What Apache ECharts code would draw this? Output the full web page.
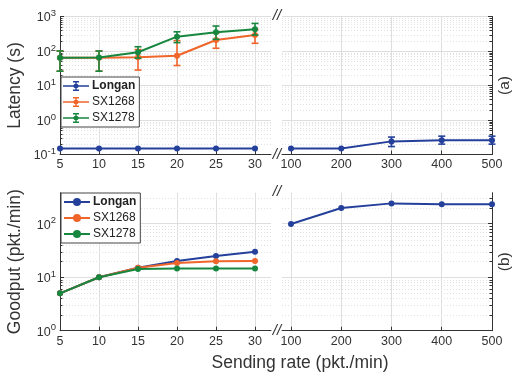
<!DOCTYPE html>
<html>
<head>
<meta charset="utf-8">
<script src="https://cdn.jsdelivr.net/npm/echarts@6/dist/echarts.min.js"></script>
<style>
  html, body { margin: 0; padding: 0; background: #fff; }
  #chart { width: 516px; height: 373px; }
</style>
</head>
<body>
<div id="chart"></div>
<script>
// sending rates (left part / right part of the broken axis)
const rateLow = [5, 10, 15, 20, 25, 30];
const rateHigh = [100, 200, 300, 400, 500];

// latency (s)
const latLonganLow = [0.15, 0.15, 0.15, 0.15, 0.15, 0.15];
const latLonganHigh = [0.15, 0.15, 0.24, 0.26, 0.26];
const latLonganHighErrLo = [null, null, 0.17, 0.2, 0.2];
const latLonganHighErrHi = [null, null, 0.32, 0.34, 0.34];
const latSX1268 = [64, 64, 66, 73, 208, 290];
const latSX1268Lo = [26, 26, 28, 38, 120, 167];
const latSX1268Hi = [100, 100, 110, 200, 330, 420];
const latSX1278 = [64, 65, 92, 260, 350, 425];
const latSX1278Lo = [26, 26, 62, 175, 218, 290];
const latSX1278Hi = [100, 100, 133, 360, 530, 630];

// goodput (pkt./min)
const gpLonganLow = [5, 10, 15, 20, 25, 30];
const gpLonganHigh = [99, 197, 240, 230, 230];
const gpSX1268 = [5, 10, 15, 18.5, 19.8, 20];
const gpSX1278 = [5, 10, 14.3, 14.5, 14.5, 14.5];

// ticks
const latTicks = [0.1, 1, 10, 100, 1000];
const gpTicks = [1, 10, 100];
const latMinor = [0.2, 0.3, 0.4, 0.5, 0.6, 0.7, 0.8, 0.9, 2, 3, 4, 5, 6, 7, 8, 9,
  20, 30, 40, 50, 60, 70, 80, 90, 200, 300, 400, 500, 600, 700, 800, 900];
const gpMinor = [2, 3, 4, 5, 6, 7, 8, 9, 20, 30, 40, 50, 60, 70, 80, 90, 200, 300];

const FONT = 'Liberation Sans';
const C = { Longan: '#24409b', SX1268: '#f0652a', SX1278: '#17873f' };
const AXIS = '#333333';

const errIcon = 'path://M0,4.2L26,4.2L26,5.8L0,5.8Z M12.3,0L13.7,0L13.7,10L12.3,10Z ' +
  'M10,0L16,0L16,1.4L10,1.4Z M10,8.6L16,8.6L16,10L10,10Z M11.5,3L14.5,3L15.5,4L15.5,6L14.5,7L11.5,7L10.5,6L10.5,4Z';

const chart = echarts.init(document.getElementById('chart'));

function supLabel(v) {
  const e = Math.round(Math.log10(v));
  return '{b|10}{s|' + e + '}';
}

function xAxis(gridIndex, min, max, ticks) {
  return {
    type: 'value', gridIndex, min, max,
    axisLine: { show: true, lineStyle: { color: AXIS, width: 1 } },
    axisTick: { show: true, inside: true, length: 4, customValues: ticks, lineStyle: { color: AXIS } },
    axisLabel: { customValues: ticks, color: '#333', fontSize: 12.5, fontFamily: FONT, margin: 4 },
    splitLine: { show: true, lineStyle: { color: '#dedede', width: 1 } }
  };
}

function yAxis(gridIndex, min, max, ticks, side, name) {
  return {
    type: 'log', logBase: 10, gridIndex, min, max, position: side,
    name: name || '', nameLocation: 'middle', nameGap: 36,
    nameTextStyle: { fontSize: 17.5, color: '#333', fontFamily: FONT },
    axisLine: { show: true, lineStyle: { color: AXIS, width: 1 } },
    axisTick: { show: true, inside: true, length: 4, customValues: ticks, lineStyle: { color: AXIS } },
    axisLabel: {
      show: side === 'left', customValues: ticks, formatter: supLabel, margin: 4,
      rich: {
        b: { fontSize: 12.5, color: '#333', fontFamily: FONT, verticalAlign: 'bottom', lineHeight: 16 },
        s: { fontSize: 9.5, color: '#333', fontFamily: FONT, verticalAlign: 'top', lineHeight: 16 }
      }
    },
    splitLine: { show: true, lineStyle: { color: '#dedede', width: 1 } }
  };
}

function minorSeries(axisIndex, xmin, values, side) {
  return {
    type: 'custom', xAxisIndex: axisIndex, yAxisIndex: axisIndex, silent: true, z: 1,
    data: values.map(v => [xmin, v]),
    renderItem: (params, api) => {
      const cs = params.coordSys;
      const y = Math.round(api.coord([api.value(0), api.value(1)])[1]) + 0.5;
      const tx = side === 'left' ? cs.x : cs.x + cs.width - 2.5;
      return {
        type: 'group', children: [
          { type: 'line', shape: { x1: cs.x, y1: y, x2: cs.x + cs.width, y2: y },
            style: { stroke: '#e2e2e2', lineWidth: 1, lineDash: [1, 2] } },
          { type: 'line', shape: { x1: tx, y1: y, x2: tx + 2.5, y2: y },
            style: { stroke: AXIS, lineWidth: 1 } }
        ]
      };
    }
  };
}

function lineSeries(name, axisIndex, xs, ys, z) {
  return {
    name, type: 'line', xAxisIndex: axisIndex, yAxisIndex: axisIndex, z,
    data: xs.map((x, i) => [x, ys[i]]),
    symbol: 'circle', symbolSize: 6,
    lineStyle: { color: C[name], width: 2 },
    itemStyle: { color: C[name] }
  };
}

function errSeries(name, axisIndex, xs, lo, hi, z) {
  return {
    name: 'err-' + name, type: 'custom', xAxisIndex: axisIndex, yAxisIndex: axisIndex, z,
    data: xs.map((x, i) => [x, lo[i], hi[i]]).filter(d => d[1] != null),
    renderItem: (params, api) => {
      const top = api.coord([api.value(0), api.value(2)]);
      const bot = api.coord([api.value(0), api.value(1)]);
      const w = 3.5;
      const st = { stroke: C[name], lineWidth: 1.6 };
      return {
        type: 'group', children: [
          { type: 'line', shape: { x1: top[0], y1: top[1], x2: bot[0], y2: bot[1] }, style: st },
          { type: 'line', shape: { x1: top[0] - w, y1: top[1], x2: top[0] + w, y2: top[1] }, style: st },
          { type: 'line', shape: { x1: bot[0] - w, y1: bot[1], x2: bot[0] + w, y2: bot[1] }, style: st }
        ]
      };
    }
  };
}

function legend(top, icon) {
  const items = ['Longan', 'SX1268', 'SX1278'].map(n => ({
    name: n, textStyle: n === 'Longan' ? { fontWeight: 'bold' } : {}
  }));
  const l = {
    data: items, orient: 'vertical', left: 61, top,
    itemWidth: 26, itemHeight: 10, itemGap: 4, padding: [3, 4, 3, 2],
    borderColor: '#444', borderWidth: 1, backgroundColor: '#fff',
    textStyle: { fontSize: 12, color: '#222', fontFamily: FONT, padding: [0, 0, 0, -2] },
    selectedMode: false, z: 10
  };
  if (icon) l.icon = icon;
  return l;
}

// "//" marks where the x axis is broken
function brk(x, y) {
  return { type: 'text', x, y, style: { text: '//', fontSize: 15, fontStyle: 'italic', fontFamily: FONT, fill: AXIS, align: 'center', verticalAlign: 'middle' }, z: 20 };
}

const topA = 16.5, topB = 192.7, h = 138;

const option = {
  animation: false,
  textStyle: { fontFamily: FONT },
  grid: [
    { left: 60, top: topA, width: 211, height: h },
    { left: 282, top: topA, width: 210, height: h },
    { left: 60, top: topB, width: 211, height: h },
    { left: 282, top: topB, width: 210, height: h }
  ],
  xAxis: [
    xAxis(0, 5, 32.05, rateLow),
    xAxis(1, 82.1, 500, rateHigh),
    xAxis(2, 5, 32.05, rateLow),
    xAxis(3, 82.1, 500, rateHigh)
  ],
  yAxis: [
    yAxis(0, 0.1, 1000, latTicks, 'left', 'Latency (s)'),
    yAxis(1, 0.1, 1000, latTicks, 'right'),
    yAxis(2, 1, 380, gpTicks, 'left', 'Goodput (pkt./min)'),
    yAxis(3, 1, 380, gpTicks, 'right')
  ],
  legend: [legend(77, errIcon), legend(193)],
  series: [
    minorSeries(0, 5, latMinor, 'left'),
    minorSeries(1, 82.1, latMinor, 'right'),
    minorSeries(2, 5, gpMinor, 'left'),
    minorSeries(3, 82.1, gpMinor, 'right'),

    lineSeries('Longan', 0, rateLow, latLonganLow, 5),
    lineSeries('SX1268', 0, rateLow, latSX1268, 6),
    errSeries('SX1268', 0, rateLow, latSX1268Lo, latSX1268Hi, 6),
    lineSeries('SX1278', 0, rateLow, latSX1278, 7),
    errSeries('SX1278', 0, rateLow, latSX1278Lo, latSX1278Hi, 7),
    lineSeries('Longan', 1, rateHigh, latLonganHigh, 5),
    errSeries('Longan', 1, rateHigh, latLonganHighErrLo, latLonganHighErrHi, 5),

    lineSeries('Longan', 2, rateLow, gpLonganLow, 5),
    lineSeries('SX1268', 2, rateLow, gpSX1268, 6),
    lineSeries('SX1278', 2, rateLow, gpSX1278, 7),
    lineSeries('Longan', 3, rateHigh, gpLonganHigh, 5)
  ],
  graphic: [
    brk(277, topA - 1), brk(277, topA + h), brk(277, topB - 1), brk(277, topB + h),
    { type: 'text', x: 300, y: 363, style: { text: 'Sending rate (pkt./min)', fontSize: 17.5, fontFamily: FONT, fill: '#333', align: 'center', verticalAlign: 'middle' } },
    { type: 'text', x: 505, y: topA + h / 2, rotation: Math.PI / 2, style: { text: '(a)', fontSize: 15.5, fontFamily: FONT, fill: '#333', align: 'center', verticalAlign: 'middle' } },
    { type: 'text', x: 505, y: topB + h / 2, rotation: Math.PI / 2, style: { text: '(b)', fontSize: 15.5, fontFamily: FONT, fill: '#333', align: 'center', verticalAlign: 'middle' } }
  ]
};

chart.setOption(option);
</script>
</body>
</html>
